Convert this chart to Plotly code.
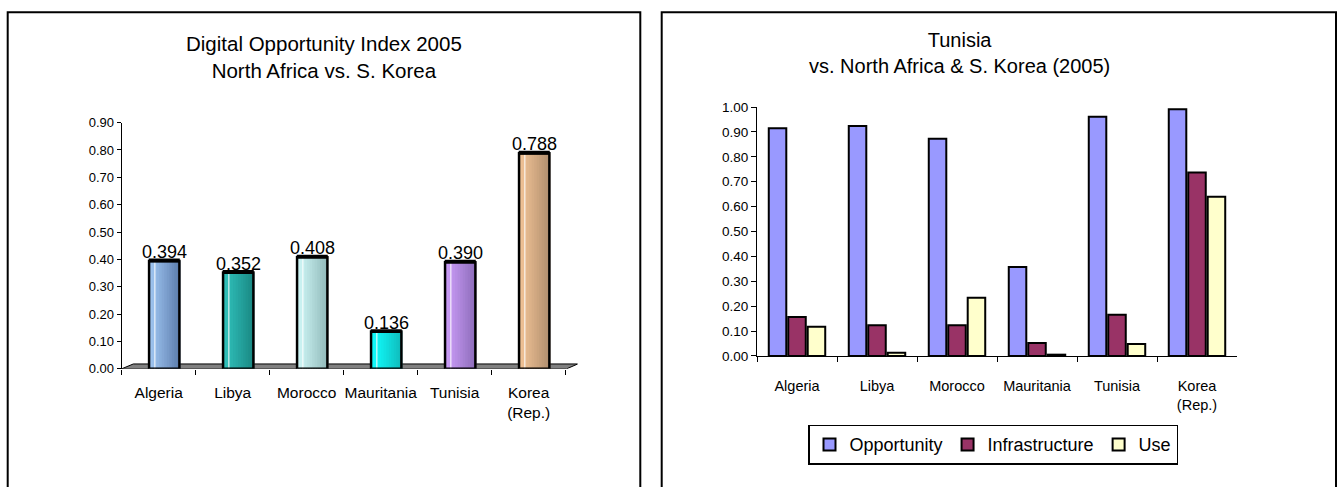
import plotly.graph_objects as go

# ---- data -----------------------------------------------------------------
categories = ["Algeria", "Libya", "Morocco", "Mauritania", "Tunisia", "Korea<br>(Rep.)"]
doi_2005 = [0.394, 0.352, 0.408, 0.136, 0.390, 0.788]

opportunity = [0.915, 0.924, 0.873, 0.357, 0.961, 0.991]
infrastructure = [0.156, 0.123, 0.123, 0.052, 0.165, 0.737]
use = [0.117, 0.013, 0.234, 0.005, 0.048, 0.640]

left_title = "Digital Opportunity Index 2005<br>North Africa vs. S. Korea"
right_title = "Tunisia<br>vs. North Africa &amp; S. Korea (2005)"

# cylinder shading per country: (lit side, shaded side)
cyl_light = ["#9EC4F0", "#30C0BA", "#CDF5F5", "#10FCFC", "#CA9CF7", "#F0C295"]
cyl_dark = ["#5F80B0", "#1B8A85", "#93BBBB", "#10BEBE", "#8F6EBC", "#B39070"]

# ---- geometry helpers -------------------------------------------------------
W, H = 1343, 487


def px(x):
    return x / W


def py(y):
    return (H - y) / H


def mix(c1, c2, t):
    a = [int(c1[i:i + 2], 16) for i in (1, 3, 5)]
    b = [int(c2[i:i + 2], 16) for i in (1, 3, 5)]
    return "#" + "".join(f"{round(a[k] + (b[k] - a[k]) * t):02X}" for k in range(3))


FONT = "Liberation Sans, Arial, sans-serif"

fig = go.Figure()

# ---- left chart: 3-D style cylinders -----------------------------------------
cyl_w = 0.41      # cylinder width in category units
cyl_off = -0.13   # left edge relative to category centre (depth shift)
n_slices = 12
for k in range(n_slices):
    t = k / (n_slices - 1)
    fig.add_trace(go.Bar(
        x=categories, y=doi_2005,
        width=cyl_w / n_slices + 0.012, offset=cyl_off + k * cyl_w / n_slices,
        marker=dict(color=[mix(cyl_light[i], cyl_dark[i], t ** 1.1) for i in range(6)],
                    line=dict(width=0)),
        xaxis="x", yaxis="y", showlegend=False, hoverinfo="skip",
    ))

# highlight streak
fig.add_trace(go.Bar(
    x=categories, y=doi_2005, width=0.016, offset=cyl_off + 0.07,
    marker=dict(color="rgba(255,255,255,0.85)", line=dict(width=0)),
    xaxis="x", yaxis="y", showlegend=False, hoverinfo="skip",
))

# outline
fig.add_trace(go.Bar(
    x=categories, y=doi_2005, width=cyl_w, offset=cyl_off,
    marker=dict(color="rgba(0,0,0,0)", line=dict(color="#000000", width=2.5)),
    xaxis="x", yaxis="y", showlegend=False, hoverinfo="skip",
))

# top cap
fig.add_trace(go.Bar(
    x=categories, y=[0.014] * len(doi_2005), base=[v - 0.005 for v in doi_2005],
    width=cyl_w + 0.01, offset=cyl_off - 0.005,
    marker=dict(color="#000000", line=dict(width=0)),
    xaxis="x", yaxis="y", showlegend=False, hoverinfo="skip",
))

for cat, v in zip(categories, doi_2005):
    fig.add_annotation(
        x=cat, y=v, xref="x", yref="y", text=f"{v:.3f}", showarrow=False,
        xshift=5.5, yanchor="bottom", yshift=-3,
        font=dict(family=FONT, size=18, color="#000000"),
    )

# floor of the 3-D plot
fig.add_shape(
    type="path", xref="x", yref="y", layer="below",
    path="M -0.5,0 L -0.343,0.0177 L 5.664,0.0177 L 5.514,0 Z",
    fillcolor="#808080", line=dict(color="#000000", width=1),
)

# ---- right chart: clustered bars ---------------------------------------------
series = [("Opportunity", opportunity, "#9999FF"),
          ("Infrastructure", infrastructure, "#993366"),
          ("Use", use, "#FFFFCC")]
for name, vals, col in series:
    fig.add_trace(go.Bar(
        name=name, x=categories, y=vals, xaxis="x2", yaxis="y2",
        marker=dict(color=col, line=dict(color="#000000", width=2)),
        hoverinfo="skip",
    ))

# ---- frames around each chart ------------------------------------------------
for x0, x1 in [(7.7, 640.3), (661.7, 1336)]:
    fig.add_shape(type="rect", xref="paper", yref="paper",
                  x0=px(x0), x1=px(x1), y0=-0.05, y1=py(5.3),
                  line=dict(color="#000000", width=2), fillcolor="rgba(0,0,0,0)")

# ---- titles ----------------------------------------------------------------
fig.add_annotation(x=px(323.5), y=py(24), xref="paper", yref="paper", text=left_title,
                   showarrow=False, xanchor="center", yanchor="top",
                   font=dict(family=FONT, size=20.5, color="#000000"))
fig.add_annotation(x=px(959), y=py(21), xref="paper", yref="paper", text=right_title,
                   showarrow=False, xanchor="center", yanchor="top",
                   font=dict(family=FONT, size=20, color="#000000"))

axis_common = dict(showgrid=False, zeroline=False, ticks="outside", tickcolor="#000000",
                   linecolor="#000000", linewidth=1)

fig.update_layout(
    width=W, height=H,
    margin=dict(l=0, r=0, t=0, b=0),
    paper_bgcolor="#FFFFFF", plot_bgcolor="rgba(0,0,0,0)",
    barmode="group", bargap=0.27, bargroupgap=0.1,
    font=dict(family=FONT, color="#000000"),
    xaxis=dict(axis_common, domain=[px(121.7), px(577.5)], type="category",
               range=[-0.5, 5.66], tickson="boundaries", ticklen=5, showline=False,
               tickangle=0, ticklabelstandoff=13,
               tickfont=dict(family=FONT, size=15.5), anchor="y"),
    yaxis=dict(axis_common, domain=[py(373.3), py(119.3)], range=[0, 0.9], dtick=0.1,
               tickformat=".2f", showline=True, ticklen=4,
               tickfont=dict(family=FONT, size=13), anchor="x"),
    xaxis2=dict(axis_common, domain=[px(757), px(1237)], type="category",
                range=[-0.5, 5.5], tickson="boundaries", ticklen=5, showline=True,
                tickangle=0, ticklabelstandoff=17,
                tickfont=dict(family=FONT, size=14.5), anchor="y2"),
    yaxis2=dict(axis_common, domain=[py(360), py(103.3)], range=[0, 1.0], dtick=0.1,
                tickformat=".2f", showline=True, ticklen=5,
                tickfont=dict(family=FONT, size=13.5), anchor="x2"),
    legend=dict(orientation="h", x=px(993), xanchor="center", y=py(431), yanchor="top",
                bordercolor="#000000", borderwidth=1.5, bgcolor="#FFFFFF",
                font=dict(family=FONT, size=18, color="#000000"),
                itemwidth=30, tracegroupgap=0),
    showlegend=True,
)

fig.write_html("out.html")
